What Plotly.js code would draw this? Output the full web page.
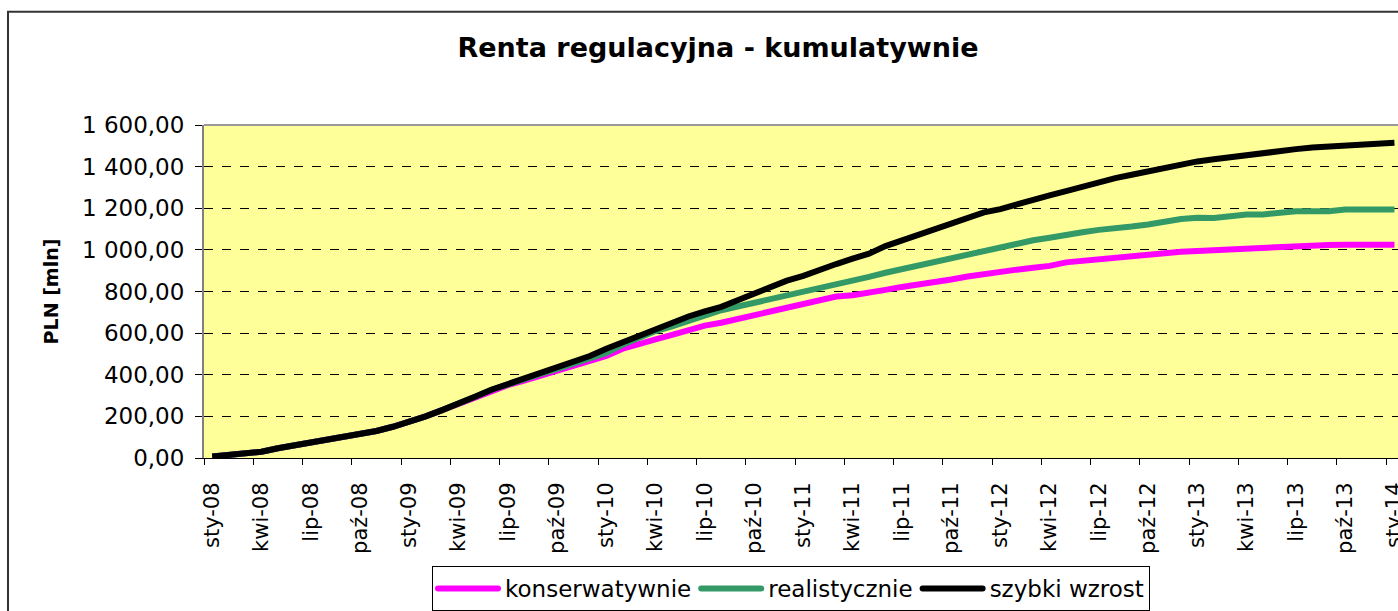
<!DOCTYPE html>
<html>
<head>
<meta charset="utf-8">
<script src="https://cdn.plot.ly/plotly-3.0.1.min.js"></script>
<style>
  html, body { margin: 0; padding: 0; background: #ffffff; }
  #chart { width: 1398px; height: 611px; }
</style>
</head>
<body>
<div id="chart"></div>
<script>
// Categories: months sty-08 .. sty-14
const months = [
  "sty-08","lut-08","mar-08","kwi-08","maj-08","cze-08","lip-08","sie-08","wrz-08","paź-08","lis-08","gru-08",
  "sty-09","lut-09","mar-09","kwi-09","maj-09","cze-09","lip-09","sie-09","wrz-09","paź-09","lis-09","gru-09",
  "sty-10","lut-10","mar-10","kwi-10","maj-10","cze-10","lip-10","sie-10","wrz-10","paź-10","lis-10","gru-10",
  "sty-11","lut-11","mar-11","kwi-11","maj-11","cze-11","lip-11","sie-11","wrz-11","paź-11","lis-11","gru-11",
  "sty-12","lut-12","mar-12","kwi-12","maj-12","cze-12","lip-12","sie-12","wrz-12","paź-12","lis-12","gru-12",
  "sty-13","lut-13","mar-13","kwi-13","maj-13","cze-13","lip-13","sie-13","wrz-13","paź-13","lis-13","gru-13",
  "sty-14"
];

// Series values (PLN mln)
const konserwatywnie = [
  7,16,20,30,47,60,73,85,103,115,130,150,
  172,200,230,260,294,325,350,372,396,418,442,465,
  490,525,550,570,592,615,636,650,668,688,706,726,
  745,762,776,782,792,808,822,832,842,858,872,885,
  896,905,914,923,940,948,952,958,968,978,987,991,
  995,999,1003,1010,1012,1015,1016,1019,1024,1025,1025,1025,
  1025
];
const realistycznie = [
  7,16,20,30,47,60,73,85,103,115,130,150,
  172,200,230,260,294,328,355,378,404,428,452,478,
  505,545,575,610,632,660,684,710,728,745,764,782,
  802,818,834,852,870,890,908,924,940,957,974,995,
  1015,1030,1046,1058,1068,1085,1096,1102,1112,1122,1138,1148,
  1154,1153,1162,1170,1170,1178,1186,1186,1186,1194,1194,1194,
  1194
];
const szybkiWzrost = [
  7,16,20,30,47,60,73,85,103,115,130,150,
  172,200,230,260,294,328,355,380,408,435,462,490,
  525,557,590,620,652,680,704,726,758,790,822,852,
  875,900,932,958,982,1018,1045,1072,1098,1122,1150,1180,
  1196,1220,1242,1262,1282,1305,1328,1345,1361,1378,1393,1410,
  1425,1435,1446,1457,1467,1476,1484,1492,1497,1497,1507,1512,
  1515
];

const seriesNames = ["konserwatywnie", "realistycznie", "szybki wzrost"];
const seriesColors = ["#FF00FF", "#339966", "#000000"];
const yTicks = [0, 200, 400, 600, 800, 1000, 1200, 1400, 1600];
const xTickLabels = months.filter((m, i) => i % 3 === 0);

const FONT = "DejaVu Sans";
const seriesData = [konserwatywnie, realistycznie, szybkiWzrost];

const traces = seriesData.map((vals, k) => ({
  type: "scatter",
  mode: "lines",
  x: months,
  y: vals,
  name: seriesNames[k],
  line: { color: seriesColors[k], width: 6, shape: "linear" },
  hoverinfo: "skip"
}));

// plot area: left 204px, top 125px, bottom 460px, right edge of window
const L = 204, T = 125, B = 151;
const plotW = 1398 - L, plotH = 611 - T - B;
const px2paperX = (px) => (px - L) / plotW;
const px2paperY = (py) => (611 - B - py) / plotH;

const layout = {
  width: 1398,
  height: 611,
  margin: { l: L, r: 0, t: T, b: B, pad: 0 },
  paper_bgcolor: "#ffffff",
  plot_bgcolor: "#FFFF99",
  separators: ", ",
  font: { family: FONT, color: "#000000" },
  title: {
    text: "<b>Renta regulacyjna - kumulatywnie</b>",
    font: { family: FONT, size: 27, color: "#000000" },
    xref: "container", yref: "container",
    x: 718 / 1398, y: 1 - 48 / 611,
    xanchor: "center", yanchor: "middle"
  },
  xaxis: {
    type: "category",
    range: [-0.5, (1398 - L) / 16.42 - 0.5],
    tickmode: "array",
    tickvals: xTickLabels,
    ticktext: xTickLabels,
    tickson: "boundaries",
    ticks: "outside",
    ticklen: 6,
    tickwidth: 1,
    tickcolor: "#000000",
    tickangle: -90,
    tickfont: { family: FONT, size: 21, color: "#000000" },
    ticklabelstandoff: 15,
    showgrid: false,
    showline: true,
    linecolor: "#000000",
    linewidth: 1,
    zeroline: false,
    fixedrange: true,
    automargin: false
  },
  yaxis: {
    range: [0, 1600],
    tickmode: "array",
    tickvals: yTicks,
    tickformat: ",.2f",
    ticks: "outside",
    ticklen: 7,
    tickwidth: 1,
    tickcolor: "#000000",
    tickfont: { family: FONT, size: 23, color: "#000000" },
    ticklabelstandoff: 6,
    showgrid: true,
    gridcolor: "#000000",
    gridwidth: 1,
    griddash: "dash",
    showline: true,
    linecolor: "#808080",
    linewidth: 2,
    zeroline: false,
    fixedrange: true,
    automargin: false,
    title: {
      text: "<b>PLN [mln]</b>",
      font: { family: FONT, size: 19, color: "#000000" },
      standoff: 18
    }
  },
  showlegend: true,
  legend: {
    orientation: "h",
    x: px2paperX(432),
    y: px2paperY(569),
    xanchor: "left",
    yanchor: "top",
    bgcolor: "#ffffff",
    bordercolor: "#000000",
    borderwidth: 1,
    font: { family: FONT, size: 23, color: "#000000" },
    itemwidth: 62,
    traceorder: "normal"
  },
  shapes: [
    // plot area top border
    { type: "line", xref: "paper", yref: "paper", x0: 0, x1: 1, y0: 1, y1: 1,
      line: { color: "#999999", width: 2 }, layer: "above" },
    // chart outer border (left + top)
    { type: "line", xref: "paper", yref: "paper",
      x0: px2paperX(8), x1: px2paperX(8), y0: px2paperY(11), y1: px2paperY(640),
      line: { color: "#333333", width: 2 }, layer: "above" },
    { type: "line", xref: "paper", yref: "paper",
      x0: px2paperX(7), x1: px2paperX(1420), y0: px2paperY(11), y1: px2paperY(11),
      line: { color: "#333333", width: 2 }, layer: "above" }
  ]
};

const gd = document.getElementById("chart");
function fixLegendLines() {
  gd.querySelectorAll(".legendlines path").forEach(p => {
    p.setAttribute("d", "M5,0h60");
    p.style.strokeLinecap = "round";
  });
}
Plotly.newPlot(gd, traces, layout, { displayModeBar: false, staticPlot: true }).then(() => {
  fixLegendLines();
  gd.on("plotly_afterplot", fixLegendLines);
});
</script>
</body>
</html>
